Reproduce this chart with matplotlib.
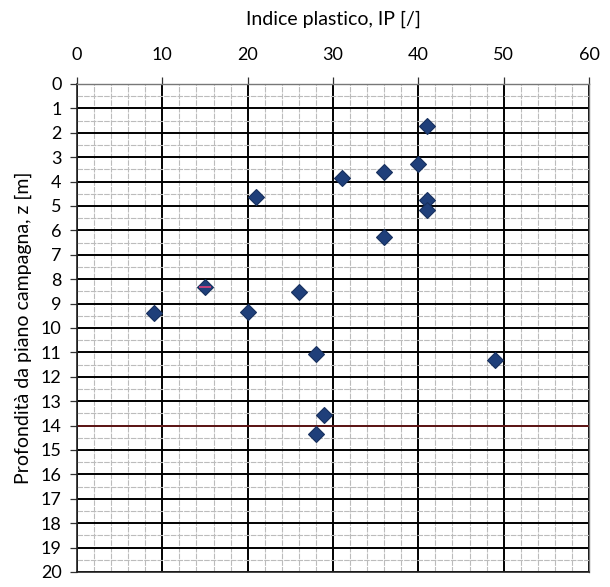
import numpy as np
import matplotlib.pyplot as plt
from matplotlib.ticker import MultipleLocator

plt.rcParams['font.family'] = ['Lato', 'DejaVu Sans']

# plasticity index vs depth
ip = [41, 40, 31, 36, 21, 41, 41, 36, 15, 26, 9, 20, 28, 49, 29, 28]
depth = [1.72, 3.28, 3.85, 3.6, 4.63, 4.75, 5.16, 6.27, 8.32, 8.52, 9.38, 9.34, 11.07, 11.31, 13.57, 14.34]

fig = plt.figure(figsize=(6.10, 5.87), dpi=100)
ax = fig.add_axes([0.1262, 0.0256, 0.8394, 0.8313])

ax.set_xlim(0, 60)
ax.set_ylim(20, 0)
ax.xaxis.set_major_locator(MultipleLocator(10))
ax.xaxis.set_minor_locator(MultipleLocator(2))
ax.yaxis.set_major_locator(MultipleLocator(1))
ax.yaxis.set_minor_locator(MultipleLocator(0.5))

ax.grid(which='minor', color='#bcbcbc', linestyle=(0, (5, 1)), linewidth=0.8)
ax.grid(which='major', color='black', linewidth=1.4)
ax.set_axisbelow(True)

# reference line at 14 m
ax.axhline(14, color='#6e1a1a', linewidth=1.2, zorder=1.5)

ax.plot(ip, depth, linestyle='none', marker='D', markersize=8,
        markerfacecolor='#1f3f7a', markeredgecolor='#17305e', markeredgewidth=0.8, zorder=3)
ax.plot(ip[8], depth[8], marker='_', markersize=9, color='#e0407a', markeredgewidth=1.2, zorder=4)

ax.xaxis.tick_top()
ax.xaxis.set_label_position('top')
ax.tick_params(axis='both', which='major', labelsize=13, length=5, width=0.9, colors='#333333', labelcolor='black')
ax.tick_params(axis='x', which='major', pad=10)
ax.tick_params(axis='y', which='major', pad=6)
ax.tick_params(which='minor', length=0)

for side in ['top', 'right']:
    ax.spines[side].set_color('#777777')
    ax.spines[side].set_linewidth(1.0)
ax.spines['top'].set_linestyle((0, (1, 1)))
for side in ['left', 'bottom']:
    ax.spines[side].set_color('#222222')
    ax.spines[side].set_linewidth(1.2)

ax.set_xlabel('Indice plastico, IP [/]', fontsize=14, labelpad=16)
ax.set_ylabel('Profondità da piano campagna, z [m]', fontsize=14, labelpad=6)

fig.savefig('out.png', dpi=100)
